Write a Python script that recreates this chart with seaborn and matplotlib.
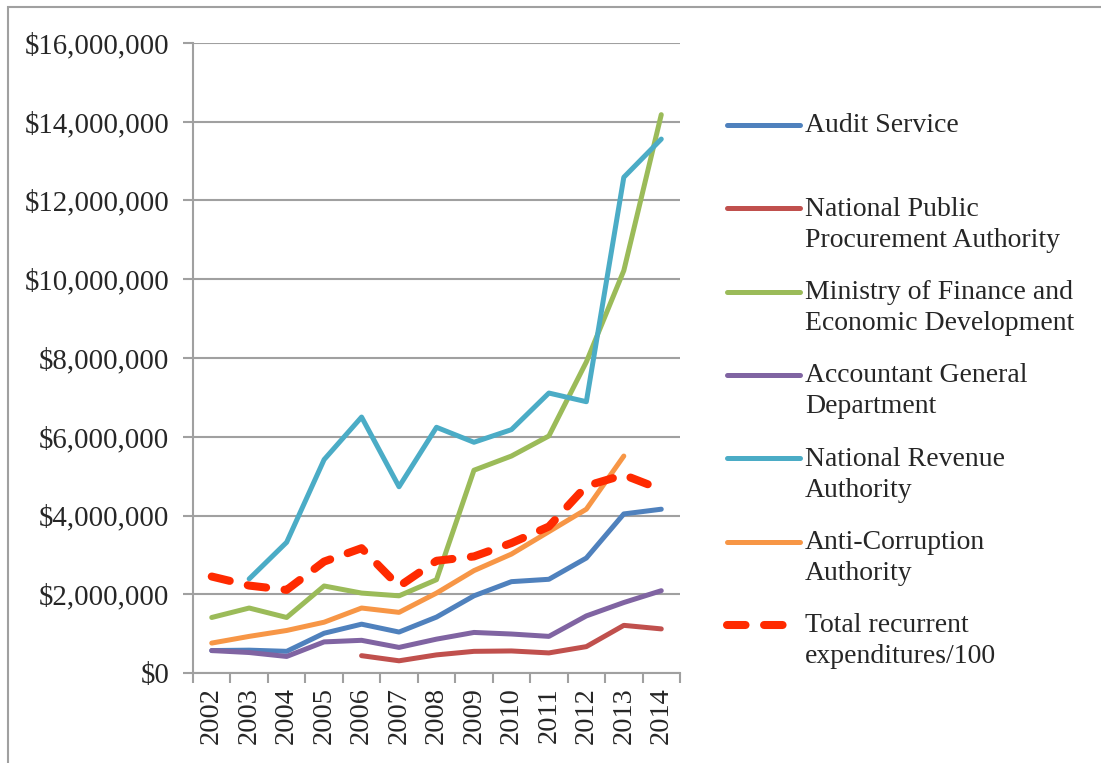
import numpy as np
import pandas as pd
import matplotlib
matplotlib.use('Agg')
import matplotlib.pyplot as plt
import matplotlib.ticker as mticker
from matplotlib.lines import Line2D
from matplotlib.patches import Rectangle
import seaborn as sns

years = list(range(2002, 2015))
nan = np.nan

audit = [570000, 580000, 550000, 1010000, 1240000, 1040000, 1420000, 1960000, 2320000, 2380000, 2920000, 4040000, 4160000]
nppa = [nan, nan, nan, nan, 440000, 310000, 460000, 550000, 560000, 510000, 670000, 1210000, 1120000]
mofed = [1410000, 1650000, 1410000, 2210000, 2030000, 1960000, 2370000, 5150000, 5510000, 6020000, 7900000, 10220000, 14180000]
agd = [570000, 520000, 420000, 790000, 830000, 650000, 860000, 1030000, 990000, 930000, 1450000, 1790000, 2090000]
nra = [nan, 2390000, 3320000, 5420000, 6500000, 4730000, 6240000, 5860000, 6180000, 7110000, 6890000, 12590000, 13560000]
acc = [760000, 930000, 1080000, 1290000, 1650000, 1540000, 2030000, 2600000, 3020000, 3590000, 4160000, 5510000, nan]
total = [2450000, 2220000, 2110000, 2830000, 3170000, 2200000, 2850000, 2960000, 3300000, 3720000, 4750000, 5030000, 4660000]

labels = ['Audit Service',
          'National Public\nProcurement Authority',
          'Ministry of Finance and\nEconomic Development',
          'Accountant General\nDepartment',
          'National Revenue\nAuthority',
          'Anti-Corruption\nAuthority',
          'Total recurrent\nexpenditures/100']
series = [audit, nppa, mofed, agd, nra, acc, total]
colors = ['#4F81BD', '#C0504D', '#9BBB59', '#8064A2', '#4BACC6', '#F79646', '#FF2A00']

sns.set_style('white')
plt.rcParams['font.family'] = ['Liberation Serif', 'DejaVu Serif']

W, H = 1101, 763
fig = plt.figure(figsize=(W / 100, H / 100), dpi=100)
ax = fig.add_axes([193 / W, 1 - 673 / H, (680 - 193) / W, (673 - 43) / H])

grid_col = '#A0A0A0'
lines = []
for lab, vals, col in zip(labels, series, colors):
    df = pd.DataFrame({'year': years, 'value': vals}).dropna()
    if lab.startswith('Total'):
        sns.lineplot(data=df, x='year', y='value', ax=ax, color=col, lw=5.8,
                     dashes=False, zorder=3)
        ln = ax.get_lines()[-1]
        ln.set_dashes((2.3, 2.3))
        ln.set_dash_capstyle('round')
        ln.set_dash_joinstyle('round')
    else:
        sns.lineplot(data=df, x='year', y='value', ax=ax, color=col, lw=3.6, zorder=2)
        ln = ax.get_lines()[-1]
        ln.set_solid_capstyle('round')
        ln.set_solid_joinstyle('round')
    lines.append(ln)

ax.set_xlim(years[0] - 0.5, years[-1] + 0.5)
ax.set_ylim(0, 16000000)
ax.set_xticks(years)
ax.set_xticklabels([str(y) for y in years], rotation=90, fontsize=20.5)
ax.xaxis.set_minor_locator(mticker.FixedLocator(np.arange(years[0] - 0.5, years[-1] + 1, 1)))
ax.tick_params(axis='x', which='major', length=0, pad=10)
ax.tick_params(axis='x', which='minor', length=7, width=1.5, color=grid_col, direction='out', bottom=True)
ax.set_yticks(np.arange(0, 16000001, 2000000))
ax.yaxis.set_major_formatter(mticker.FuncFormatter(lambda v, p: '${:,.0f}'.format(v)))
ax.tick_params(axis='y', length=7, width=1.5, color=grid_col, direction='out', left=True, labelsize=20.8, pad=10)
ax.grid(axis='y', color=grid_col, lw=1.5)
ax.set_axisbelow(True)
for s in ['top', 'right']:
    ax.spines[s].set_visible(False)
for s in ['left', 'bottom']:
    ax.spines[s].set_color(grid_col)
    ax.spines[s].set_linewidth(1.5)
ax.set_xlabel('')
ax.set_ylabel('')

# legend, built by hand so that each key sits on the first line of its label
for i, (lab, ln) in enumerate(zip(labels, lines)):
    y0 = 125 + i * 83.3
    key = Line2D([727 / W, 800 / W], [1 - y0 / H, 1 - y0 / H], transform=fig.transFigure,
                 color=ln.get_color(), lw=ln.get_linewidth())
    if lab.startswith('Total'):
        key.set_dashes((2.3, 2.3))
        key.set_dash_capstyle('round')
    else:
        key.set_solid_capstyle('round')
    fig.add_artist(key)
    for k, part in enumerate(lab.split('\n')):
        fig.text(805 / W, 1 - (y0 + 1 + k * 31) / H, part, fontsize=20, va='center', ha='left')

fig.add_artist(Rectangle((8 / W, -0.1), 1.2, 1 - 7 / H + 0.1, transform=fig.transFigure,
                         fill=False, edgecolor=grid_col, lw=1.5))

fig.savefig('out.png', dpi=100)
